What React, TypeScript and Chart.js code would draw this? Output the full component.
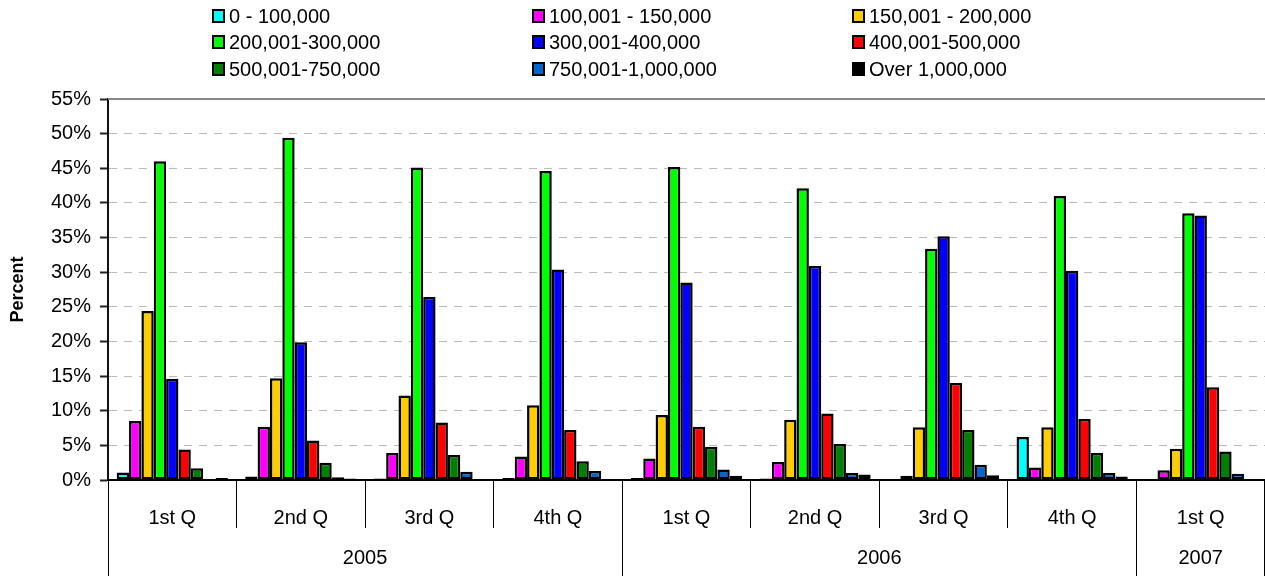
import React, { useEffect, useRef } from 'react';
import { Chart, registerables } from 'chart.js';

Chart.register(...registerables);

const FONT = '"Liberation Sans", Arial, Helvetica, sans-serif';

const quarterLabels = ['1st Q', '2nd Q', '3rd Q', '4th Q', '1st Q', '2nd Q', '3rd Q', '4th Q', '1st Q'];
const yearLabels = ['2005', '2006', '2007'];
const yearSpans = [4, 4, 1];

const seriesNames = [
  '0 - 100,000',
  '100,001 - 150,000',
  '150,001 - 200,000',
  '200,001-300,000',
  '300,001-400,000',
  '400,001-500,000',
  '500,001-750,000',
  '750,001-1,000,000',
  'Over 1,000,000',
];
const seriesColors = ['#00FFFF', '#FF00FF', '#FFCC00', '#00FF00', '#0000FF', '#FF0000', '#008000', '#0066CC', '#000000'];

const upTo100k = [1.1, 0.5, 0.2, 0.3, 0.3, 0.2, 0, 6.2, 0];
const from100kTo150k = [8.5, 7.7, 3.9, 3.4, 3.1, 2.6, 0.6, 1.8, 1.4];
const from150kTo200k = [24.4, 14.7, 12.2, 10.8, 9.4, 8.7, 7.6, 7.6, 4.5];
const from200kTo300k = [46.0, 49.4, 45.1, 44.6, 45.2, 42.1, 33.4, 41.0, 38.5];
const from300kTo400k = [14.6, 19.9, 26.4, 30.4, 28.5, 30.9, 35.2, 30.2, 38.2];
const from400kTo500k = [4.4, 5.7, 8.3, 7.2, 7.7, 9.6, 14.0, 8.8, 13.4];
const from500kTo750k = [1.7, 2.5, 3.6, 2.7, 4.8, 5.2, 7.2, 3.9, 4.1];
const from750kTo1m = [0, 0.4, 1.2, 1.3, 1.5, 1.0, 2.2, 1.0, 0.9];
const over1m = [0.3, 0.2, 0, 0, 0.6, 0.8, 0.7, 0.5, 0];

const seriesValues = [
  upTo100k, from100kTo150k, from150kTo200k, from200kTo300k, from300kTo400k,
  from400kTo500k, from500kTo750k, from750kTo1m, over1m,
];

const yMin = 0;
const yMax = 55;
const yStep = 5;
const yTitle = 'Percent';

const legendColX = [212, 532, 852];
const legendRowY = [16, 42, 69];

export default function App() {
  const ref = useRef<HTMLCanvasElement>(null);

  useEffect(() => {
    if (!ref.current) return;
    const decor = {
      id: 'decor',
      afterDraw(chart: any) {
        const { ctx, chartArea, scales } = chart;
        const xs = scales.x;
        ctx.save();
        // top border line
        ctx.strokeStyle = '#888888';
        ctx.lineWidth = 2;
        ctx.beginPath();
        ctx.moveTo(chartArea.left, chartArea.top);
        ctx.lineTo(chartArea.right, chartArea.top);
        ctx.stroke();

        // year row
        const half = (xs.getPixelForValue(1) - xs.getPixelForValue(0)) / 2;
        ctx.strokeStyle = '#000000';
        ctx.lineWidth = 1;
        ctx.fillStyle = '#000000';
        ctx.font = `20px ${FONT}`;
        ctx.textAlign = 'center';
        ctx.textBaseline = 'middle';
        let idx = 0;
        const vline = (px: number) => {
          const x = Math.round(px) + 0.5;
          ctx.beginPath();
          ctx.moveTo(x, chartArea.bottom);
          ctx.lineTo(x, chart.height);
          ctx.stroke();
        };
        yearLabels.forEach((lab, i) => {
          const start = xs.getPixelForValue(idx) - half;
          const end = xs.getPixelForValue(idx + yearSpans[i] - 1) + half;
          vline(start);
          if (i === yearLabels.length - 1) vline(Math.min(end, chart.width - 1));
          ctx.fillText(lab, (start + end) / 2, 558);
          idx += yearSpans[i];
        });

        // legend
        ctx.textAlign = 'left';
        chart.data.datasets.forEach((ds: any, i: number) => {
          const col = i % 3;
          const row = Math.floor(i / 3);
          const bx = legendColX[col];
          const cy = legendRowY[row];
          ctx.fillStyle = ds.backgroundColor;
          ctx.fillRect(bx + 1, cy - 6, 11, 12);
          ctx.strokeStyle = '#000000';
          ctx.lineWidth = 2;
          ctx.strokeRect(bx + 1, cy - 6, 11, 12);
          ctx.fillStyle = '#000000';
          ctx.fillText(ds.label, bx + 17, cy + 1);
        });
        ctx.restore();
      },
    };

    const chart = new Chart(ref.current, {
      type: 'bar',
      data: {
        labels: quarterLabels,
        datasets: seriesValues.map((vals, i) => ({
          label: seriesNames[i],
          data: vals,
          backgroundColor: seriesColors[i],
          borderColor: '#000000',
          borderWidth: 2.5,
          borderSkipped: false,
          categoryPercentage: 0.865,
          barPercentage: 1.0,
        })),
      },
      options: {
        animation: false,
        responsive: false,
        devicePixelRatio: 1,
        layout: { padding: { top: 99, left: 0, right: 0, bottom: 0 } },
        plugins: {
          legend: { display: false },
          tooltip: { enabled: false },
        },
        scales: {
          x: {
            grid: {
              display: true,
              drawOnChartArea: false,
              drawTicks: true,
              tickLength: 48,
              tickColor: '#000000',
              tickWidth: 1,
              offset: true,
            },
            border: { display: true, color: '#000000', width: 2 },
            ticks: {
              color: '#000000',
              font: { family: FONT, size: 20 },
              padding: -22,
              maxRotation: 0,
              autoSkip: false,
            },
            afterFit: (scale: any) => {
              scale.height = 96;
            },
          },
          y: {
            min: yMin,
            max: yMax,
            ticks: {
              stepSize: yStep,
              color: '#000000',
              font: { family: FONT, size: 20 },
              padding: 9,
              callback: (v: any) => `${v}%`,
            },
            grid: {
              color: (c: any) => (c.tick && (c.tick.value === yMax || c.tick.value === yMin) ? 'rgba(0,0,0,0)' : '#BBBBBB'),
              lineWidth: 1,
              tickLength: 8,
              tickColor: '#222222',
              tickWidth: 2,
            },
            border: { display: true, color: '#111111', width: 2, dash: [8, 7] },
            title: {
              display: true,
              text: yTitle,
              color: '#000000',
              font: { family: FONT, size: 18, weight: 'bold' },
              padding: { top: 7, bottom: 0 },
            },
            afterFit: (scale: any) => {
              scale.width = 108;
            },
          },
        },
      },
      plugins: [decor],
    });
    return () => chart.destroy();
  }, []);

  return (
    <div style={{ position: 'absolute', left: 0, top: 0, width: 1265, height: 576, background: '#ffffff' }}>
      <canvas ref={ref} width={1265} height={576} />
    </div>
  );
}
